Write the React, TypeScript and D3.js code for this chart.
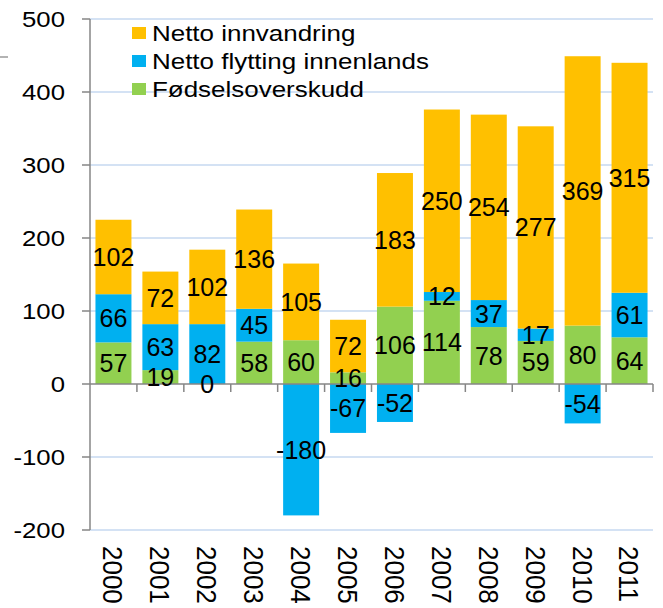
import React from "react";
import * as d3 from "d3";

const years = ["2000","2001","2002","2003","2004","2005","2006","2007","2008","2009","2010","2011"];
const fodsel = [57, 19, 0, 58, 60, 16, 106, 114, 78, 59, 80, 64];
const flytting = [66, 63, 82, 45, -180, -67, -52, 12, 37, 17, -54, 61];
const innvandring = [102, 72, 102, 136, 105, 72, 183, 250, 254, 277, 369, 315];
const seriesNames = ["Fødselsoverskudd", "Netto flytting innenlands", "Netto innvandring"];
const seriesKeys = ["fodsel", "flytting", "innvandring"];
const colors = ["#92D050", "#00B0F0", "#FFC000"];
const yTicks = [-200, -100, 0, 100, 200, 300, 400, 500];

export default function App() {
  const W = 663, H = 608;
  const left = 90, right = 653, top = 19, bottom = 530;
  const x = d3.scaleBand<string>().domain(years).range([left, right]).paddingInner(0.233).paddingOuter(0.1165);
  const y = d3.scaleLinear().domain([-200, 500]).range([bottom, top]);
  const rows = years.map((yr, i) => ({ year: yr, fodsel: fodsel[i], flytting: flytting[i], innvandring: innvandring[i] }));
  const stack = d3.stack<any>().keys(seriesKeys).offset(d3.stackOffsetDiverging);
  const layers = stack(rows);
  const step = x.step();
  const font = "Liberation Sans, Arial, sans-serif";
  const legendOrder = [2, 1, 0];
  return (
    <svg width={W} height={H} style={{ position: "absolute", left: 0, top: 0, background: "#fff" }} fontFamily={font}>
      <rect x={0} y={0} width={W} height={H} fill="#fff" />
      <line x1={0} x2={8} y1={57} y2={57} stroke="#9a9a9a" strokeWidth={1.5} />
      {yTicks.filter(t => t !== 0).map(t => (
        <line key={"g" + t} x1={left} x2={right} y1={y(t)} y2={y(t)} stroke="#C6D9F1" strokeWidth={1.5} />
      ))}
      {layers.map((layer, li) => layer.map((d, i) => (
        <rect key={li + "-" + i} x={x(years[i])} width={x.bandwidth()} y={y(Math.max(d[0], d[1]))}
          height={Math.abs(y(d[0]) - y(d[1]))} fill={colors[li]} />
      )))}
      {/* axes */}
      <line x1={left} x2={left} y1={top} y2={bottom} stroke="#868686" strokeWidth={1.5} />
      {yTicks.map(t => (
        <g key={"t" + t}>
          <line x1={left - 8} x2={left} y1={y(t)} y2={y(t)} stroke="#868686" strokeWidth={1.5} />
          <text transform={`translate(65,${y(t)}) scale(1.12,1)`} textAnchor="end" dy="0.36em" fontSize={23} fill="#000">{t}</text>
        </g>
      ))}
      <line x1={left} x2={right} y1={y(0)} y2={y(0)} stroke="#868686" strokeWidth={1.5} />
      {d3.range(1, years.length + 1).map(k => (
        <line key={"ct" + k} x1={left + k * step} x2={left + k * step} y1={y(0)} y2={y(0) + 8} stroke="#868686" strokeWidth={1.5} />
      ))}
      {/* data labels */}
      {layers.map((layer, li) => layer.map((d, i) => {
        const v = (rows[i] as any)[seriesKeys[li]];
        const cy = (y(d[0]) + y(d[1])) / 2;
        return (
          <text key={"l" + li + "-" + i} x={(x(years[i]) as number) + x.bandwidth() / 2} y={cy} dy="0.36em"
            textAnchor="middle" fontSize={25} fill="#000">{v}</text>
        );
      }))}
      {/* year labels */}
      {years.map(yr => (
        <text key={"y" + yr} transform={`translate(${(x(yr) as number) + x.bandwidth() / 2},546) rotate(90) scale(1,1.08)`}
          dy="0.36em" textAnchor="start" fontSize={26} fill="#000">{yr}</text>
      ))}
      {/* legend */}
      {legendOrder.map((si, r) => (
        <g key={"lg" + si}>
          <rect x={132} y={27 + r * 28} width={14} height={12} fill={colors[si]} />
          <text transform={`translate(152,${33 + r * 28}) scale(1.18,1)`} dy="0.36em" fontSize={22} fill="#000">{seriesNames[si]}</text>
        </g>
      ))}
    </svg>
  );
}
